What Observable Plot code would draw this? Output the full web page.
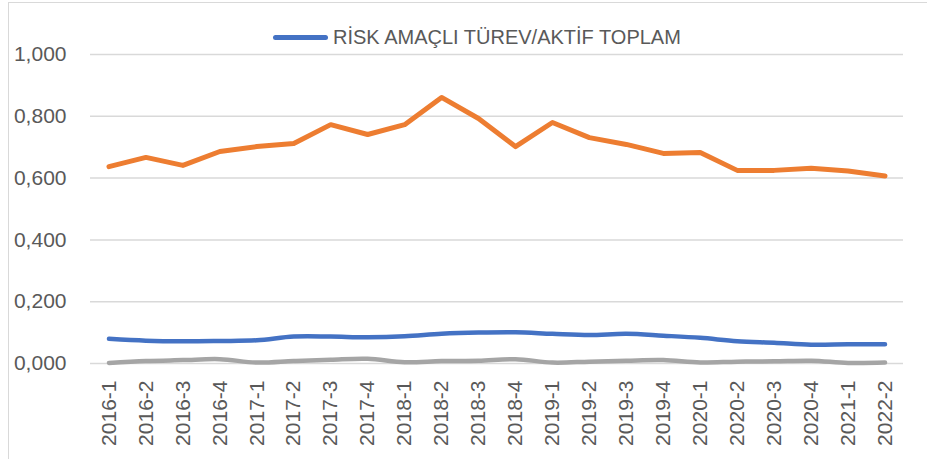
<!DOCTYPE html>
<html>
<head>
<meta charset="utf-8">
<script src="https://cdn.jsdelivr.net/npm/d3@7"></script>
<script src="https://cdn.jsdelivr.net/npm/@observablehq/plot@0.6"></script>
<style>
  html, body { margin: 0; padding: 0; background: #fff; }
  #wrap { position: relative; width: 927px; height: 459px; overflow: hidden; font-family: "Liberation Sans", Arial, sans-serif; }
  #frame { position: absolute; left: 8px; top: 2px; width: 930px; height: 470px; border-top: 1.5px solid #d9d9d9; border-left: 1.5px solid #d9d9d9; box-sizing: border-box; }
  #legend { position: absolute; left: 273px; top: 26px; display: flex; align-items: center; color: #595959; font-size: 20px; white-space: nowrap; }
  #legend .sw { width: 55px; height: 5px; border-radius: 3px; background: #4472C4; margin-right: 5px; }
  #chart { position: absolute; left: 0; top: 0; }
</style>
</head>
<body>
<div id="wrap">
  <div id="frame"></div>
  <div id="chart"></div>
  <div id="legend"><div class="sw"></div><span id="legtext"></span></div>
</div>
<script>
const periods = ["2016-1","2016-2","2016-3","2016-4","2017-1","2017-2","2017-3","2017-4","2018-1","2018-2","2018-3","2018-4","2019-1","2019-2","2019-3","2019-4","2020-1","2020-2","2020-3","2020-4","2021-1","2022-2"];
const legendLabel = "RİSK AMAÇLI TÜREV/AKTİF TOPLAM";
const riskDerivative = [0.080,0.074,0.072,0.073,0.075,0.087,0.087,0.085,0.088,0.096,0.100,0.101,0.096,0.092,0.096,0.090,0.083,0.072,0.067,0.061,0.062,0.062];
const orangeSeries = [0.637,0.667,0.641,0.686,0.702,0.712,0.773,0.741,0.773,0.861,0.793,0.702,0.780,0.731,0.709,0.680,0.683,0.625,0.625,0.632,0.623,0.607];
const graySeries = [0.002,0.008,0.011,0.014,0.003,0.008,0.012,0.015,0.004,0.008,0.009,0.014,0.003,0.006,0.009,0.011,0.003,0.006,0.007,0.009,0.002,0.003];
const yTicks = [0, 0.2, 0.4, 0.6, 0.8, 1.0];

const rows = (vals, s) => vals.map((v, i) => ({period: periods[i], value: v, series: s}));
const blueData = rows(riskDerivative, "blue");
const orangeData = rows(orangeSeries, "orange");
const grayData = rows(graySeries, "gray");

document.getElementById("legtext").textContent = legendLabel;

const chart = Plot.plot({
  width: 927,
  height: 459,
  marginTop: 54,
  marginBottom: 96,
  marginLeft: 90,
  marginRight: 24,
  style: {fontFamily: "Liberation Sans, Arial, sans-serif", background: "transparent", color: "#595959"},
  x: {type: "point", domain: periods, padding: 0.5, round: false, label: null},
  y: {domain: [0, 1], label: null},
  marks: [
    Plot.ruleY(yTicks, {stroke: "#d9d9d9", strokeWidth: 1.5, strokeOpacity: 1}),
    Plot.axisY({ticks: yTicks, tickSize: 0, tickPadding: 24, fontSize: 21, tickFormat: d => d.toFixed(3).replace(".", ","), label: null, fill: "#595959"}),
    Plot.axisX({tickRotate: -90, tickSize: 0, tickPadding: 17, fontSize: 21, label: null, fill: "#595959"}),
    Plot.line(grayData, {x: "period", y: "value", stroke: "#A5A5A5", strokeWidth: 4.5, curve: "catmull-rom", strokeLinecap: "round", strokeLinejoin: "round"}),
    Plot.line(blueData, {x: "period", y: "value", stroke: "#4472C4", strokeWidth: 4.5, curve: "catmull-rom", strokeLinecap: "round", strokeLinejoin: "round"}),
    Plot.line(orangeData, {x: "period", y: "value", stroke: "#ED7D31", strokeWidth: 5, strokeLinecap: "round", strokeLinejoin: "round"})
  ]
});
document.getElementById("chart").appendChild(chart);
</script>
</body>
</html>
